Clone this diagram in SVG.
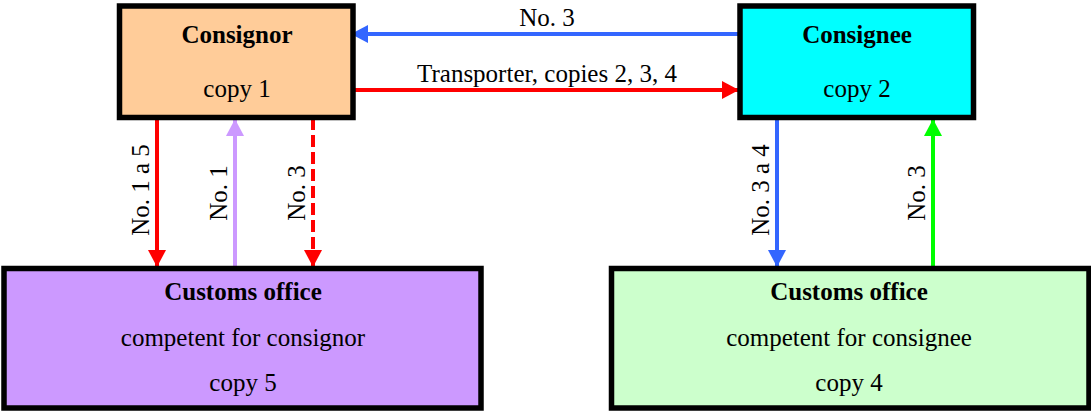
<svg xmlns="http://www.w3.org/2000/svg" width="1091" height="412" viewBox="0 0 1091 412">
<style>
.box{stroke:#000;stroke-width:5.5}
.ln{fill:none;stroke-width:4}
.t{font-family:'Liberation Serif','Times New Roman',serif;font-size:25px;text-anchor:middle;fill:#000}
.b{font-weight:bold}
</style>
<defs>
<marker id="aRed" markerUnits="userSpaceOnUse" markerWidth="18" markerHeight="18" refX="17" refY="9" orient="auto"><path d="M0,0 L17,9 L0,18 Z" fill="#FF0000"/></marker>
<marker id="aBlue" markerUnits="userSpaceOnUse" markerWidth="18" markerHeight="18" refX="17" refY="9" orient="auto"><path d="M0,0 L17,9 L0,18 Z" fill="#3366FF"/></marker>
<marker id="aPurple" markerUnits="userSpaceOnUse" markerWidth="18" markerHeight="18" refX="17" refY="9" orient="auto"><path d="M0,0 L17,9 L0,18 Z" fill="#CC99FF"/></marker>
<marker id="aGreen" markerUnits="userSpaceOnUse" markerWidth="18" markerHeight="18" refX="17" refY="9" orient="auto"><path d="M0,0 L17,9 L0,18 Z" fill="#00FF00"/></marker>
</defs>
<rect width="1091" height="412" fill="#fff"/>
<g id="connectors">
<line class="ln" x1="740" y1="34" x2="351" y2="34" stroke="#3366FF" marker-end="url(#aBlue)"/>
<line class="ln" x1="353" y1="90" x2="739" y2="90" stroke="#FF0000" marker-end="url(#aRed)"/>
<line class="ln" x1="157" y1="118" x2="157" y2="267" stroke="#FF0000" marker-end="url(#aRed)"/>
<line class="ln" x1="235" y1="268" x2="235" y2="119" stroke="#CC99FF" marker-end="url(#aPurple)"/>
<line class="ln" x1="313" y1="118" x2="313" y2="267" stroke="#FF0000" stroke-dasharray="12 5" marker-end="url(#aRed)"/>
<line class="ln" x1="777" y1="118" x2="777" y2="267" stroke="#3366FF" marker-end="url(#aBlue)"/>
<line class="ln" x1="933" y1="268" x2="933" y2="119" stroke="#00FF00" marker-end="url(#aGreen)"/>
<g class="t">
<text x="547" y="26">No. 3</text>
<text x="547" y="82">Transporter, copies 2, 3, 4</text>
<text transform="translate(149,190) rotate(-90)">No. 1 a 5</text>
<text transform="translate(227,193) rotate(-90)">No. 1</text>
<text transform="translate(305,193) rotate(-90)">No. 3</text>
<text transform="translate(769,190) rotate(-90)">No. 3 a 4</text>
<text transform="translate(925,193) rotate(-90)">No. 3</text>
</g>
</g>
<g id="consignor" class="t">
<rect class="box" x="119.5" y="6" width="233.5" height="111.5" fill="#FFCC99"/>
<text class="b" x="237" y="43">Consignor</text>
<text x="237" y="97">copy 1</text>
</g>
<g id="consignee" class="t">
<rect class="box" x="740" y="6" width="233.5" height="111.5" fill="#00FFFF"/>
<text class="b" x="857" y="43">Consignee</text>
<text x="857" y="97">copy 2</text>
</g>
<g id="customs-consignor" class="t">
<rect class="box" x="4" y="268.5" width="477" height="139.5" fill="#CC99FF"/>
<text class="b" x="243" y="300">Customs office</text>
<text x="243" y="346">competent for consignor</text>
<text x="243" y="391">copy 5</text>
</g>
<g id="customs-consignee" class="t">
<rect class="box" x="611.5" y="268.5" width="477.5" height="139.5" fill="#CCFFCC"/>
<text class="b" x="849" y="300">Customs office</text>
<text x="849" y="346">competent for consignee</text>
<text x="849" y="391">copy 4</text>
</g>
</svg>
